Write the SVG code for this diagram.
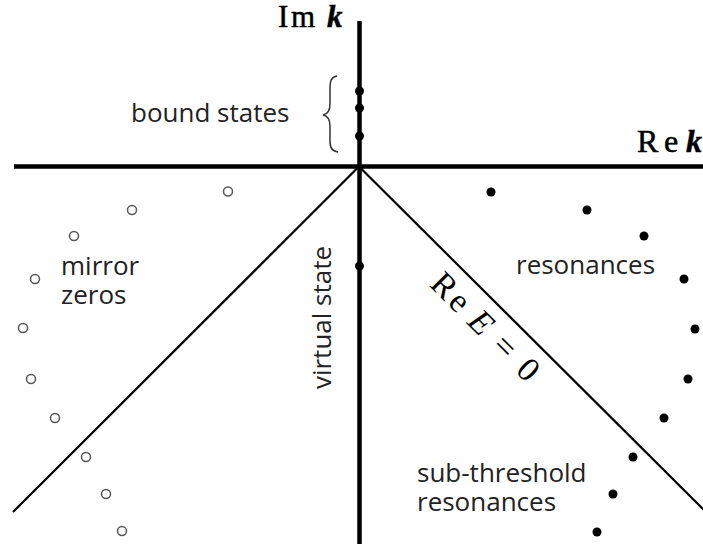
<svg xmlns="http://www.w3.org/2000/svg" width="703" height="544" viewBox="0 0 703 544">
<style>
.axis{stroke:#000;stroke-width:4.5;fill:none}
.diag{stroke:#000;stroke-width:2.2;fill:none}
.pole{fill:#000}
.zero{fill:#fff;stroke:#555;stroke-width:1.5}
.lbl{font-family:"Open Sans","DejaVu Sans",sans-serif;font-size:26px;fill:#222}
.math{font-family:"Liberation Serif","Times New Roman",serif;fill:#000}
.ax{stroke:#000;stroke-width:0.5}
.brace{stroke:#333;stroke-width:1.5;fill:none}
</style>
<rect width="703" height="544" fill="#fff"/>
<g id="connectors">
<line class="diag" x1="359" y1="166.5" x2="13" y2="512"/>
<line class="diag" x1="359" y1="166.5" x2="704" y2="510"/>
<line class="axis" x1="14" y1="166.5" x2="703" y2="166.5"/>
<line class="axis" x1="359.5" y1="21" x2="359.5" y2="544"/>
</g>
<g id="axis-labels">
<text class="math ax" y="27" font-size="31"><tspan x="278">I</tspan><tspan x="291">m</tspan><tspan x="327" font-weight="bold" font-style="italic">k</tspan></text>
<text class="math ax" y="152" font-size="32"><tspan x="637">R</tspan><tspan x="664">e</tspan><tspan x="686" font-weight="bold" font-style="italic">k</tspan></text>
</g>
<g id="bound-states">
<circle class="pole" cx="359.5" cy="91" r="4.5"/>
<circle class="pole" cx="359.5" cy="108" r="4.5"/>
<circle class="pole" cx="359.5" cy="136" r="4.5"/>
<path class="brace" d="M337 76 C331 77 330 81 330 89 L330 104 C330 110 328 114 323 115 C328 116 330 120 330 126 L330 141 C330 148 332 151 338 152"/>
<text class="lbl" x="131" y="122" font-size="27">bound states</text>
</g>
<g id="virtual-state">
<circle class="pole" cx="359.5" cy="266" r="4.5"/>
<text class="lbl" transform="translate(331,317.5) rotate(-90)" text-anchor="middle" font-size="29">virtual state</text>
</g>
<g id="resonances">
<circle class="pole" cx="491" cy="192" r="4.5"/>
<circle class="pole" cx="587" cy="210" r="4.5"/>
<circle class="pole" cx="644" cy="236" r="4.5"/>
<circle class="pole" cx="684" cy="279" r="4.5"/>
<circle class="pole" cx="695" cy="329" r="4.5"/>
<circle class="pole" cx="688" cy="379" r="4.5"/>
<text class="lbl" x="516" y="274">resonances</text>
</g>
<g id="sub-threshold-resonances">
<circle class="pole" cx="664" cy="418" r="4.5"/>
<circle class="pole" cx="633" cy="457" r="4.5"/>
<circle class="pole" cx="613" cy="494" r="4.5"/>
<circle class="pole" cx="597" cy="532" r="4.5"/>
<text class="lbl" x="417" y="482">sub-threshold</text>
<text class="lbl" x="417" y="511">resonances</text>
</g>
<g id="mirror-zeros">
<circle class="zero" cx="228" cy="191.5" r="4.5"/>
<circle class="zero" cx="132" cy="210" r="4.5"/>
<circle class="zero" cx="74" cy="236" r="4.5"/>
<circle class="zero" cx="35" cy="279" r="4.5"/>
<circle class="zero" cx="23" cy="328" r="4.5"/>
<circle class="zero" cx="31" cy="379" r="4.5"/>
<circle class="zero" cx="55" cy="418" r="4.5"/>
<circle class="zero" cx="86" cy="457" r="4.5"/>
<circle class="zero" cx="106" cy="494" r="4.5"/>
<circle class="zero" cx="122" cy="531" r="4.5"/>
<text class="lbl" x="61" y="275">mirror</text>
<text class="lbl" x="61" y="304">zeros</text>
</g>
<g id="re-e-zero">
<text class="math" transform="translate(428,285) rotate(45)" font-size="34" text-anchor="middle"><tspan x="12">R</tspan><tspan x="34">e</tspan><tspan x="64" font-style="italic">E</tspan><tspan x="98">=</tspan><tspan x="131">0</tspan></text>
</g>
</svg>
